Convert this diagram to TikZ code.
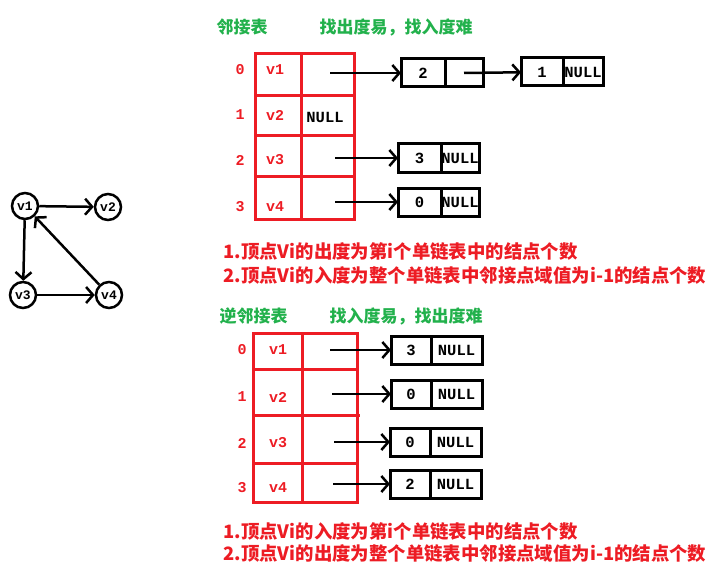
\documentclass[tikz,border=0pt]{standalone}
\usepackage{fontspec}
\usepackage{xcolor}
\usepackage{tikz}
\usetikzlibrary{arrows.meta}
\usetikzlibrary{positioning}
\newfontfamily\cjk{Noto Sans CJK SC}
\newfontfamily\mono{Liberation Mono}
\definecolor{tabred}{RGB}{237,28,36}
\definecolor{tabgreen}{RGB}{34,177,76}

\begin{document}
\begin{tikzpicture}[x=1pt,y=-1pt,line width=3pt]

			\tikzstyle{vertex} = [draw,circle,line width=2.5pt,minimum size=26pt,inner sep=0pt,font=\mono\bfseries\fontsize{13}{13}\selectfont]
			\tikzstyle{edge} = [-{Straight Barb[length=7pt,width=16pt]},line width=2.5pt]
			\tikzstyle{cell} = [draw,line width=3pt,minimum height=28pt,inner sep=0pt,outer sep=0pt,font=\mono\bfseries\fontsize{15.5}{15.5}\selectfont]
			\tikzstyle{title} = [anchor=west,inner sep=0pt,text=tabgreen,font=\cjk\bfseries\fontsize{17}{17}\selectfont]
			\tikzstyle{note} = [anchor=west,inner sep=0pt,text=tabred,font=\cjk\bfseries\fontsize{18.4}{18.4}\selectfont]
			\tikzstyle{idx} = [text=tabred,inner sep=0pt,font=\mono\bfseries\fontsize{15}{15}\selectfont]

			\useasboundingbox (0,0) rectangle (711,572);

			% the graph
			\node[vertex] (v1) at (25,206) {v1};
			\node[vertex] (v2) at (108,207) {v2};
			\node[vertex] (v3) at (23,295) {v3};
			\node[vertex] (v4) at (109,295) {v4};
			\draw[edge] (v1) -- (v2);
			\draw[edge] (v1) -- (v3);
			\draw[edge] (v3) -- (v4);
			\draw[edge] (v4) -- (v1);

			% adjacency list
			\node[title] (t1) at (215,27) {邻接表};
			\node[title] (t1b) at (318,27) {找出度易，找入度难};

			\draw[tabred] (255,54) rectangle (354,219);
			\draw[tabred] (301,54) -- (301,219);
			\draw[tabred] (255,96) -- (354,96);
			\draw[tabred] (255,136) -- (354,136);
			\draw[tabred] (255,176) -- (356,176);

			\node[idx] (i0) at (240,70) {0};
			\node[idx] (i1) at (240,115) {1};
			\node[idx] (i2) at (240,160) {2};
			\node[idx] (i3) at (240,207) {3};
			\node[idx] (h0) at (275,70) {v1};
			\node[idx] (h1) at (275,115) {v2};
			\node[idx] (h2) at (275,160) {v3};
			\node[idx] (h3) at (275,207) {v4};
			\node[inner sep=0pt,font=\mono\bfseries\fontsize{15.5}{15.5}\selectfont] (n1) at (325,117) {NULL};

			\coordinate (p0) at (330,73);
			\coordinate (p2) at (335,158);
			\coordinate (p3) at (335,202);

			\node[cell,minimum width=44pt] (a0) at (423,73) {2};
			\node[cell,minimum width=38pt,right=0pt of a0] (a0n) {};
			\node[cell,minimum width=42pt] (a1) at (542,72) {1};
			\node[cell,minimum width=40pt,right=0pt of a1] (a1n) {NULL};
			\node[cell,minimum width=43pt] (a2) at (419.5,158) {3};
			\node[cell,minimum width=38pt,right=0pt of a2] (a2n) {NULL};
			\node[cell,minimum width=43pt] (a3) at (419.5,202) {0};
			\node[cell,minimum width=38pt,right=0pt of a3] (a3n) {NULL};

			\draw[edge] (p0) -- (a0);
			\draw[edge] (a0n.center) -- (a1);
			\draw[edge] (p2) -- (a2);
			\draw[edge] (p3) -- (a3);

			\node[note] (m1) at (222,251) {1.顶点Vi的出度为第i个单链表中的结点个数};
			\node[note] (m2) at (222,275) {2.顶点Vi的入度为整个单链表中邻接点域值为i-1的结点个数};

			% inverse adjacency list
			\node[title] (t2) at (218,316) {逆邻接表};
			\node[title] (t2b) at (328,316) {找入度易，找出度难};

			\draw[tabred] (253,333) rectangle (357,502);
			\draw[tabred] (302,333) -- (302,502);
			\draw[tabred] (253,369) -- (357,369);
			\draw[tabred] (253,415) -- (360,415);
			\draw[tabred] (253,463) -- (357,463);

			\node[idx] (j0) at (242,350) {0};
			\node[idx] (j1) at (242,397) {1};
			\node[idx] (j2) at (242,443) {2};
			\node[idx] (j3) at (242,488) {3};
			\node[idx] (k0) at (278,350) {v1};
			\node[idx] (k1) at (278,397) {v2};
			\node[idx] (k2) at (278,443) {v3};
			\node[idx] (k3) at (278,488) {v4};

			\coordinate (q0) at (330,350);
			\coordinate (q1) at (332,394);
			\coordinate (q2) at (334,442);
			\coordinate (q3) at (333,484);

			\node[cell,minimum width=40pt] (b0) at (411,350) {3};
			\node[cell,minimum width=51pt,right=0pt of b0] (b0n) {NULL};
			\node[cell,minimum width=40pt] (b1) at (411,394) {0};
			\node[cell,minimum width=51pt,right=0pt of b1] (b1n) {NULL};
			\node[cell,minimum width=40pt] (b2) at (410,442) {0};
			\node[cell,minimum width=51pt,right=0pt of b2] (b2n) {NULL};
			\node[cell,minimum width=40pt] (b3) at (410,484) {2};
			\node[cell,minimum width=51pt,right=0pt of b3] (b3n) {NULL};

			\draw[edge] (q0) -- (b0);
			\draw[edge] (q1) -- (b1);
			\draw[edge] (q2) -- (b2);
			\draw[edge] (q3) -- (b3);

			\node[note] (m3) at (222,531) {1.顶点Vi的入度为第i个单链表中的结点个数};
			\node[note] (m4) at (222,553) {2.顶点Vi的出度为整个单链表中邻接点域值为i-1的结点个数};
		\end{tikzpicture}
\end{document}
